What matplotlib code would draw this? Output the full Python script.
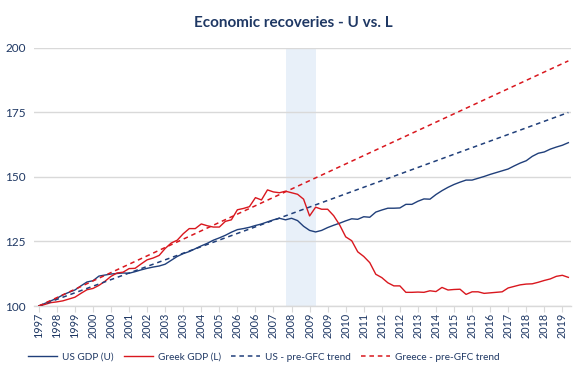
import matplotlib
matplotlib.use("Agg")
import matplotlib.pyplot as plt
import numpy as np

plt.rcParams['font.family'] = ['Lato', 'DejaVu Sans']

us_gdp = [100, 101.0, 102.0, 103.0, 104.3, 105.3, 106.2, 107.8, 109.3, 109.8,
          111.6, 112.0, 112.4, 112.6, 112.8, 112.7, 113.3, 114.0, 114.6, 115.1,
          115.5, 116.2, 117.7, 119.2, 120.3, 121.1, 122.2, 123.3, 124.3, 125.5,
          126.4, 127.4, 128.6, 129.6, 130.0, 130.5, 131.2, 131.8, 132.6, 133.4,
          134.0, 133.4, 134.0, 133.1, 130.9, 129.3, 128.7, 129.3, 130.4, 131.3,
          132.1, 133.0, 133.8, 133.6, 134.6, 134.4, 136.4, 137.2, 137.9, 137.9,
          138.0, 139.4, 139.4, 140.6, 141.5, 141.4, 143.2, 144.7, 146.0, 147.1,
          148.0, 148.8, 148.8, 149.5, 150.2, 151.0, 151.7, 152.4, 153.1, 154.3,
          155.4, 156.3, 158.0, 159.2, 159.7, 160.8, 161.6, 162.3, 163.3]

greek_gdp = [100, 100.6, 101.3, 101.6, 102.0, 102.7, 103.4, 104.9, 106.3, 106.8,
             108.0, 109.6, 111.5, 112.8, 113.1, 114.5, 114.6, 116.3, 117.9, 118.6,
             119.6, 122.3, 124.4, 125.5, 128.0, 130.0, 130.0, 131.8, 131.1, 130.6,
             130.6, 132.8, 133.4, 137.3, 137.8, 138.5, 142.0, 141.1, 145.0, 144.2,
             143.9, 144.5, 143.9, 143.3, 141.4, 134.9, 138.3, 137.5, 137.5, 135.0,
             131.4, 126.8, 125.3, 121.0, 119.2, 116.8, 112.3, 111.0, 109.0, 107.8,
             107.8, 105.3, 105.3, 105.4, 105.3, 105.9, 105.6, 107.2, 106.2, 106.4,
             106.5, 104.5, 105.5, 105.5, 104.9, 105.1, 105.3, 105.5, 107.0, 107.6,
             108.2, 108.5, 108.6, 109.2, 109.9, 110.5, 111.5, 111.9, 111.1]

trend_idx = [0, 88]
us_trend = [100, 175]
greece_trend = [100, 195]

tick_labels = ['1997', '1998', '1999', '2000', '2000', '2001', '2002', '2003', '2003', '2004',
               '2005', '2006', '2006', '2007', '2008', '2009', '2009', '2010', '2011', '2012',
               '2012', '2013', '2014', '2015', '2015', '2016', '2017', '2018', '2018', '2019']

gfc_span = (41, 46)

navy = '#203f7a'
red = '#d9171e'
textc = '#1f3864'

fig = plt.figure(figsize=(5.86, 3.79), dpi=100)
ax = fig.add_axes([0.058, 0.1926, 0.916, 0.6808])

x = np.arange(len(us_gdp))
ax.axvspan(gfc_span[0], gfc_span[1], color='#e8f0f9', zorder=0, lw=0)
ax.plot(x, us_gdp, color=navy, lw=1.0, label='US GDP (U)', zorder=3)
ax.plot(x, greek_gdp, color=red, lw=1.0, label='Greek GDP (L)', zorder=3)
ax.plot(trend_idx, us_trend, color=navy, lw=1.1, ls=(0, (3, 2.5)), label='US - pre-GFC trend', zorder=3)
ax.plot(trend_idx, greece_trend, color=red, lw=1.1, ls=(0, (3, 2.5)), label='Greece - pre-GFC trend', zorder=3)

ax.set_ylim(100, 200)
ax.set_xlim(-0.8, 88.4)
ax.set_yticks([100, 125, 150, 175, 200])
ax.yaxis.grid(True, color='#d9d9d9', lw=1.0)
ax.set_axisbelow(True)
ax.set_xticks(np.arange(0, 3 * len(tick_labels), 3))
ax.set_xticklabels(tick_labels, rotation=90, fontsize=7.8, color=textc)
ax.tick_params(axis='y', length=0, labelsize=8.5, labelcolor=textc, pad=6)
ax.tick_params(axis='x', length=4, color='#d9d9d9', pad=1)
for s in ['top', 'right', 'left']:
    ax.spines[s].set_visible(False)
ax.spines['bottom'].set_color('#d9d9d9')
ax.spines['bottom'].set_linewidth(1.0)

fig.text(0.5, 0.938, 'Economic recoveries - U vs. L', ha='center', va='center',
         fontsize=11, fontweight='bold', color=textc)

leg = fig.legend(loc='center', bbox_to_anchor=(0.45, 0.058), ncol=4, frameon=False,
                 fontsize=7.2, handlelength=2.9, columnspacing=1.0, handletextpad=0.5)
for t in leg.get_texts():
    t.set_color(textc)

fig.savefig('out.png', dpi=100)
